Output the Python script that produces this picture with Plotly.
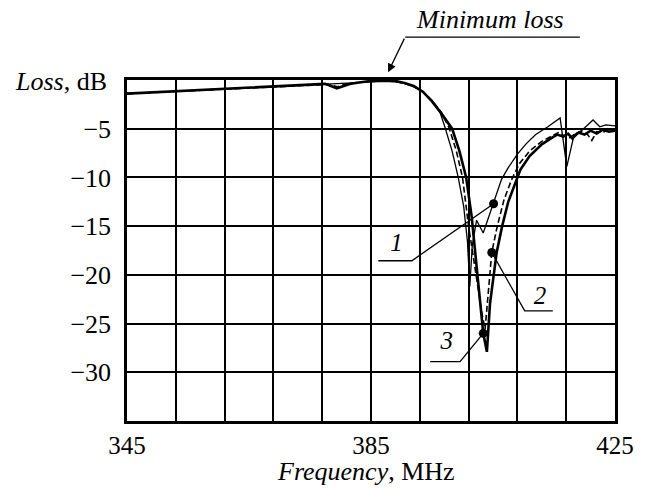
import plotly.graph_objects as go

# ---- data ----
x1 = [345, 355, 365, 375, 378, 381, 383, 385, 387, 389, 390.5, 392, 393.5, 395, 396.3, 397.1, 398.3, 399.3,
      400.2, 400.8, 401.2, 401.6, 402.3, 403.4, 405.1, 406.4, 407.5, 409, 410.5, 412, 414, 416, 417.1, 418.3,
      419.5, 420.5, 421.4, 422.5, 423.5, 425]
y1 = [-1.4, -1.1, -0.8, -0.5, -0.4, -0.35, -0.3, -0.2, -0.15, -0.2, -0.35, -0.7, -1.2, -2.1, -3.3, -4.8, -7.3, -10,
      -13, -16.5, -21.2, -17, -14.4, -15.7, -12.7, -10.2, -9.0, -7.6, -6.5, -5.6, -4.8, -3.9, -8.9, -5.6,
      -5.2, -4.6, -4.1, -4.8, -4.6, -4.7]

x2 = [345, 355, 365, 375, 378, 379.5, 381, 383, 385, 387, 389, 390.5, 392, 393.5, 395, 396.5, 397.8, 399, 400,
      401, 402.2, 403.2, 403.7, 404.2, 404.8, 405.7, 406.8, 408, 409.3, 411, 413, 414.5, 415.7, 416.6, 417.4,
      418.5, 419.5, 420.5, 421.2, 422, 423, 424, 425]
y2 = [-1.4, -1.1, -0.8, -0.5, -0.45, -0.7, -0.4, -0.25, -0.12, -0.08, -0.15, -0.35, -0.65, -1.2, -2.1, -3.3, -4.9,
      -7.3, -10, -15, -20, -24, -25.6, -22, -17.7, -15, -12.3, -10.3, -8.6, -7.3, -6.3, -5.8, -5.4, -5.7, -6.0,
      -5.5, -5.3, -5.6, -6.2, -5.3, -5.4, -5.0, -5.1]

x3 = [345, 355, 365, 375, 377.5, 379.4, 381.5, 383, 385, 387, 389, 390.5, 392, 393.5, 395, 396.5, 398.3, 399.5,
      400.6, 401.5, 402.5, 403.4, 404, 404.5, 405.6, 406.5, 407.5, 408.5, 409.5, 411, 413, 414.5, 415.5, 416.5,
      417.3, 418, 419, 420, 421, 422, 423, 424, 425]
y3 = [-1.4, -1.1, -0.8, -0.5, -0.4, -0.85, -0.4, -0.25, -0.1, -0.05, -0.1, -0.3, -0.6, -1.2, -2.2, -3.4, -5, -7.3,
      -10, -14, -20, -26, -27.9, -23, -17.7, -15, -12.5, -10.8, -9.2, -7.8, -6.6, -6.0, -5.6, -5.8, -5.5, -6.0,
      -5.4, -5.6, -5.2, -5.5, -5.1, -5.3, -5.2]

# curve markers and their labels
mark_x = [405.1, 404.8, 403.4]
mark_y = [-12.7, -17.7, -26.0]
label_text = ["1", "2", "3"]
label_x = [389.2, 412.7, 397.4]
label_y = [-16.9, -22.3, -27.0]
# leader lines: (underline start, underline end/bend, marker)
lead1_x = [386.2, 391.7, 405.1]
lead1_y = [-18.55, -18.55, -12.7]
lead2_x = [414.8, 410.2, 404.8]
lead2_y = [-23.7, -23.7, -17.7]
lead3_x = [394.7, 399.6, 403.4]
lead3_y = [-28.9, -28.9, -26.0]

x_ticks = [345, 353, 361, 369, 377, 385, 393, 401, 409, 417, 425]
x_ticktext = ["345", "", "", "", "", "385", "", "", "", "", "425"]
y_ticks = [-35, -30, -25, -20, -15, -10, -5, 0]
y_ticktext = ["", "\u221230", "\u221225", "\u221220", "\u221215", "\u221210", "\u22125", ""]

FONT = "Liberation Serif"
FS = 26

fig = go.Figure()
fig.add_trace(go.Scatter(x=x1, y=y1, mode="lines", line=dict(color="black", width=1.3), showlegend=False))
fig.add_trace(go.Scatter(x=x2, y=y2, mode="lines", line=dict(color="black", width=1.6, dash="6px,3px"),
                         showlegend=False))
fig.add_trace(go.Scatter(x=x3, y=y3, mode="lines", line=dict(color="black", width=2.6), showlegend=False))

for lx, ly in [(lead1_x, lead1_y), (lead2_x, lead2_y), (lead3_x, lead3_y)]:
    fig.add_trace(go.Scatter(x=lx, y=ly, mode="lines", line=dict(color="black", width=1.3), showlegend=False))

fig.add_trace(go.Scatter(x=mark_x, y=mark_y, mode="markers",
                         marker=dict(color="black", size=9), showlegend=False))
fig.add_trace(go.Scatter(x=label_x, y=label_y, mode="text", text=label_text,
                         textfont=dict(family=FONT, size=25, color="black"),
                         texttemplate="<i>%{text}</i>", showlegend=False))

axis_common = dict(showgrid=True, gridcolor="black", gridwidth=2, zeroline=False,
                   showline=True, linecolor="black", linewidth=2.5, mirror=True, ticks="")
fig.update_xaxes(range=[345, 425], tickmode="array", tickvals=x_ticks, ticktext=x_ticktext,
                 ticklabelstandoff=0, tickfont=dict(family=FONT, size=25, color="black"), **axis_common)
fig.update_yaxes(range=[-35, 0], tickmode="array", tickvals=y_ticks, ticktext=y_ticktext,
                 ticklabelstandoff=8, tickfont=dict(family=FONT, size=FS, color="black"), **axis_common)

# Minimum loss annotation
fig.add_annotation(xref="paper", yref="paper", x=0.744, y=1.176, xanchor="center", yanchor="middle",
                   text="<i>Minimum loss</i>", showarrow=False,
                   font=dict(family=FONT, size=FS, color="black"))
fig.add_shape(type="line", xref="paper", yref="paper", x0=0.570, x1=0.928, y0=1.126, y1=1.126,
              line=dict(color="black", width=1.3))
fig.add_annotation(xref="paper", yref="paper", x=0.535, y=1.023, ax=17, ay=-35, text="",
                   showarrow=True, arrowhead=2, arrowsize=1.3, arrowwidth=1.3, arrowcolor="black")
fig.add_annotation(xref="paper", yref="paper", x=-0.037, y=0.997, xanchor="right", yanchor="middle",
                   text="<i>Loss</i>, dB", showarrow=False, font=dict(family=FONT, size=FS, color="black"))
fig.add_annotation(xref="paper", yref="paper", x=0.49, y=-0.148, xanchor="center", yanchor="middle",
                   text="<i>Frequency</i>, MHz", showarrow=False,
                   font=dict(family=FONT, size=FS, color="black"))

fig.update_layout(width=645, height=489, margin=dict(l=127, r=30, t=80, b=68),
                  paper_bgcolor="white", plot_bgcolor="white")
fig.write_html("out.html")
